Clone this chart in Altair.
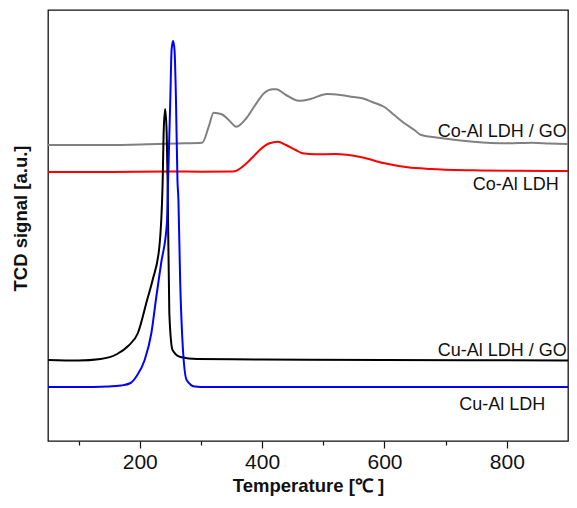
import altair as alt
import pandas as pd

# ---- data (Temperature in °C, TCD signal in a.u.) ----
cu_al_T = [50, 100, 149, 170, 185, 195, 208, 219, 227, 235, 244.4, 246.3, 249.9, 252, 254.4,
           256.8, 259.2, 261.6, 263.2, 266, 269.7, 276.6, 289.8, 310, 500, 700, 900]
cu_al_s = [54, 54, 54.5, 55.5, 58, 65, 81, 108, 144, 178, 218, 261, 341, 391, 400,
           391, 341, 261, 241, 161, 101, 61, 54.5, 54, 54, 54, 54]

cu_al_go_T = [50, 100, 136, 163, 181, 197, 212, 221, 232, 237.5, 239, 241.5, 244, 245.5,
              248.3, 253.6, 266.5, 294, 400, 600, 900]
cu_al_go_s = [81, 80.5, 82, 87, 95, 108, 141, 161, 194, 261, 308, 332, 308, 261,
              128, 91, 84, 82, 81.5, 81, 80.5]

co_al_T = [50, 150, 250, 300, 353, 374.5, 385.3, 396, 412, 425.6, 439, 455, 466, 487,
           519.5, 562.6, 600, 637.7, 675.4, 745, 820, 900]
co_al_s = [269, 269, 269.5, 269.3, 269.5, 277.7, 284.3, 291, 297.7, 299.3, 296, 291, 287.7, 286.7,
           287, 283.7, 277.7, 273.7, 272, 270.7, 270.2, 270]

co_al_go_T = [50, 150, 213, 260, 302, 312.7, 320.8, 334, 345.5, 358, 374.5, 390.6, 403.5, 417.5,
              423, 439, 460, 479, 506, 528, 546.5, 568, 579, 600, 616, 632, 649, 659,
              691.5, 745, 799, 842, 870, 900]
co_al_go_s = [296, 296, 296.7, 297.5, 298.3, 314.3, 328.3, 326.7, 321, 314.3, 323, 337.7, 348, 351.7,
              351.7, 346, 340.3, 342, 347, 346, 344.3, 342, 339.3, 334, 326, 318, 311, 306.3,
              303, 299.3, 297.7, 298.3, 297.5, 297]

series_names = ["Co-Al LDH / GO", "Co-Al LDH", "Cu-Al LDH / GO", "Cu-Al LDH"]
series_colors = ["#808080", "#ff0000", "#000000", "#0000ff"]

label_T = [898, 885, 898, 863]
label_s = [304, 251, 85, 31]

x_ticks = [100, 200, 300, 400, 500, 600, 700, 800]

# ---- build table ----
rows = []
for name, T, s in [("Co-Al LDH / GO", co_al_go_T, co_al_go_s),
                   ("Co-Al LDH", co_al_T, co_al_s),
                   ("Cu-Al LDH / GO", cu_al_go_T, cu_al_go_s),
                   ("Cu-Al LDH", cu_al_T, cu_al_s)]:
    for t, v in zip(T, s):
        rows.append({"series": name, "T": t, "s": v})
df = pd.DataFrame(rows)
labels_df = pd.DataFrame({"text": series_names, "T": label_T, "s": label_s})

FONT = "Liberation Sans"

x_scale = alt.Scale(domain=[50, 900], nice=False, zero=False)
y_scale = alt.Scale(domain=[0, 431], nice=False, zero=False)

x_axis = alt.Axis(
    title="Temperature [℃ ]",
    values=x_ticks,
    labelExpr="datum.value % 200 === 0 ? datum.label : ''",
    tickSize={"condition": {"test": "datum.value % 200 === 0", "value": 7}, "value": 4},
    labelFontSize=21, labelFont=FONT, labelColor="#111111", labelPadding=3,
    titleFontSize=18.5, titleFont=FONT, titleFontWeight="bold", titleColor="#111111",
    titleBaseline="alphabetic", titleY=50,
    tickColor="#111111", tickWidth=1.2, domain=False, grid=False, labelFlush=False,
)
y_axis = alt.Axis(
    title="TCD signal [a.u.]", labels=False, ticks=False, domain=False, grid=False,
    titleFontSize=18.5, titleFont=FONT, titleFontWeight="bold", titleColor="#111111",
    titleX=-28, titleY=208, titleAlign="center", titleBaseline="middle", titleAngle=-90,
)

lines = alt.Chart(df).mark_line(strokeWidth=2, interpolate="monotone").encode(
    x=alt.X("T:Q", scale=x_scale, axis=x_axis),
    y=alt.Y("s:Q", scale=y_scale, axis=y_axis),
    color=alt.Color("series:N", scale=alt.Scale(domain=series_names, range=series_colors), legend=None),
    detail="series:N",
)

texts = alt.Chart(labels_df).mark_text(
    align="right", baseline="alphabetic", fontSize=18, font=FONT, color="#111111"
).encode(
    x=alt.X("T:Q", scale=x_scale),
    y=alt.Y("s:Q", scale=y_scale),
    text="text:N",
)

chart = alt.layer(lines, texts).properties(
    width=520, height=431,
    background="white",
    autosize=alt.AutoSizeParams(type="none"),
    padding={"left": 40, "top": 2, "right": 1, "bottom": 55},
).configure_view(stroke="#111111", strokeWidth=1.3)

chart.save("out.html", embed_options={"renderer": "svg", "actions": False})
